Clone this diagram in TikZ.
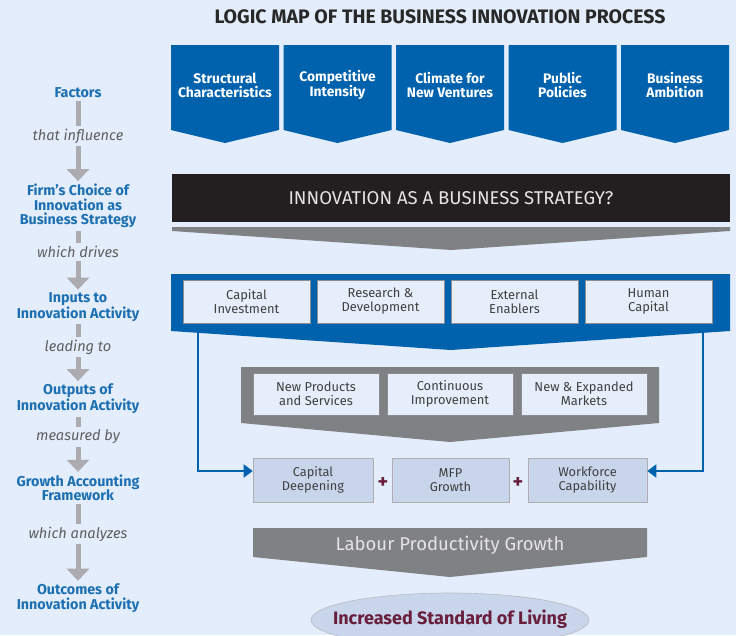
\documentclass[tikz,border=0pt]{standalone}
\usepackage{fontspec}
\setmainfont{Fira Sans}
\usetikzlibrary{arrows.meta,calc,shapes.geometric}
\definecolor{bgc}{RGB}{227,237,251}
\definecolor{mainblue}{RGB}{0,98,173}
\definecolor{lblblue}{RGB}{28,112,178}
\definecolor{darkbox}{RGB}{35,31,32}
\definecolor{midgray}{RGB}{128,129,133}
\definecolor{stemgray}{RGB}{172,172,176}
\definecolor{boxfill}{RGB}{229,238,250}
\definecolor{boxline}{RGB}{140,140,145}
\definecolor{resfill}{RGB}{200,213,235}
\definecolor{maroon}{RGB}{105,30,60}
\definecolor{txtdark}{RGB}{64,64,64}
\definecolor{txtgray}{RGB}{95,95,95}
\definecolor{lighttxt}{RGB}{228,228,228}
\definecolor{titlec}{RGB}{40,40,40}
\tikzset{
  pentxt/.style={text=white, font=\fontsize{13.8}{14}\selectfont\bfseries, align=center},
  lbl/.style={text=lblblue, font=\fontsize{14.3}{14.5}\selectfont\bfseries, align=center, inner sep=3pt, outer sep=0pt},
  conn/.style={text=txtgray, font=\fontsize{14.6}{15}\selectfont\itshape, inner sep=3pt, outer sep=0pt},
  stemline/.style={draw=stemgray, line width=5pt},
  stemarrow/.style={draw=stemgray, line width=5pt, -{Triangle[width=22pt,length=12pt]}},
  inbox/.style={draw=boxline, fill=boxfill, line width=0.8pt, minimum width=127pt, minimum height=43pt, text=txtdark, font=\fontsize{12.9}{14}\selectfont, align=center, inner sep=0pt},
  resbox/.style={draw=boxline!70, fill=resfill, line width=0.6pt, minimum height=44pt, text=txtdark, font=\fontsize{12.8}{13.5}\selectfont, align=center, inner sep=0pt},
  plussign/.style={text=maroon, font=\fontsize{20}{20}\selectfont\bfseries, inner sep=0pt},
  blueconn/.style={draw=mainblue, line width=2pt, -{Triangle[width=13pt,length=9pt]}}
}
\begin{document}
\begin{tikzpicture}[x=1pt,y=-1pt]
\useasboundingbox (0,0) rectangle (736,635);
\clip (0,0) rectangle (736,635);
\fill[bgc] (0,0) rectangle (736,635);

% title
\node[text=titlec, font=\fontsize{19.5}{20}\selectfont\bfseries] (title) at (440,17) {LOGIC MAP OF THE BUSINESS INNOVATION PROCESS};

% factor pentagons
\foreach \i/\l in {0/171,1/283.5,2/396,3/508.5,4/621}{
  \fill[mainblue] (\l,45) -- (\l+108,45) -- (\l+108,130) -- (\l+54,143) -- (\l,130) -- cycle;
}
\node[pentxt] (p1) at (225,85) {Structural\\Characteristics};
\node[pentxt] (p2) at (337.5,85) {Competitive\\Intensity};
\node[pentxt] (p3) at (450,85) {Climate for\\New Ventures};
\node[pentxt] (p4) at (562.5,85) {Public\\Policies};
\node[pentxt] (p5) at (675,85) {Business\\Ambition};

% strategy bar
\node[fill=darkbox, minimum width=558pt, minimum height=48pt, inner sep=0pt, text=lighttxt, font=\fontsize{18.5}{18}\selectfont] (strat) at (451,198) {INNOVATION AS A BUSINESS STRATEGY?};
\fill[midgray] (172,227) -- (730,227) -- (730,231) -- (451,250) -- (172,231) -- cycle;

% inputs frame
\fill[mainblue] (171,274) -- (730,274) -- (730,331) -- (451,350) -- (171,331) -- cycle;
\node[inbox] (i1) at (246.5,301.5) {Capital\\Investment};
\node[inbox] (i2) at (380.5,301.5) {Research \&\\Development};
\node[inbox] (i3) at (514.5,301.5) {External\\Enablers};
\node[inbox] (i4) at (648.5,301.5) {Human\\Capital};

% outputs frame
\fill[midgray] (241,367) -- (659,367) -- (659,423) -- (450,442) -- (241,423) -- cycle;
\node[inbox, minimum width=126pt, minimum height=42pt] (o1) at (316,394) {New Products\\and Services};
\node[inbox, minimum width=126pt, minimum height=42pt] (o2) at (450,394) {Continuous\\Improvement};
\node[inbox, minimum width=126pt, minimum height=42pt] (o3) at (584,394) {New \& Expanded\\Markets};

% growth accounting boxes
\node[resbox, minimum width=120pt] (r1) at (313,480) {Capital\\Deepening};
\node[resbox, minimum width=117pt] (r2) at (450.5,480) {MFP\\Growth};
\node[resbox, minimum width=119pt] (r3) at (587.5,480) {Workforce\\Capability};
\node[plussign] (plus1) at (383,483) {+};
\node[plussign] (plus2) at (518,483) {+};

\coordinate (inL) at (198,332);
\coordinate (inR) at (703,332);
\draw[blueconn] (inL) |- ($(r1.west)+(0,-9)$);
\draw[blueconn] (inR) |- ($(r3.east)+(0,-9)$);

% labour productivity
\fill[midgray] (253,528) -- (647,528) -- (647,557) -- (450,577) -- (253,557) -- cycle;
\node[text=lighttxt, font=\fontsize{18.5}{18}\selectfont] (lpg) at (450,545) {Labour Productivity Growth};

% standard of living
\draw[draw=boxline!60, fill=resfill, line width=0.6pt] (450,620) ellipse [x radius=139, y radius=27];
\node[inner sep=0pt, text=maroon, font=\fontsize{18}{18}\selectfont\bfseries] (sol) at (450,619) {Increased Standard of Living};

% left column
\node[lbl] (f1) at (78,93) {Factors};
\node[conn] (c1) at (78,136) {that influence};
\node[lbl] (f2) at (78,206) {Firm’s Choice of\\Innovation as\\Business Strategy};
\node[conn] (c2) at (78,252) {which drives};
\node[lbl] (f3) at (78,307) {Inputs to\\Innovation Activity};
\node[conn] (c3) at (78,347) {leading to};
\node[lbl] (f4) at (78,399) {Outputs of\\Innovation Activity};
\node[conn] (c4) at (78,437) {measured by};
\node[lbl] (f5) at (78,488) {Growth Accounting\\Framework};
\node[conn] (c5) at (78,534) {which analyzes};
\node[lbl] (f6) at (78,598) {Outcomes of\\Innovation Activity};

\draw[stemline] (f1) -- (c1);
\draw[stemarrow] (c1) -- (f2);
\draw[stemline] (f2) -- (c2);
\draw[stemarrow] (c2) -- (f3);
\draw[stemline] (f3) -- (c3);
\draw[stemarrow] (c3) -- (f4);
\draw[stemline] (f4) -- (c4);
\draw[stemarrow] (c4) -- (f5);
\draw[stemline] (f5) -- (c5);
\draw[stemarrow] (c5) -- (f6);
\end{tikzpicture}
\end{document}
